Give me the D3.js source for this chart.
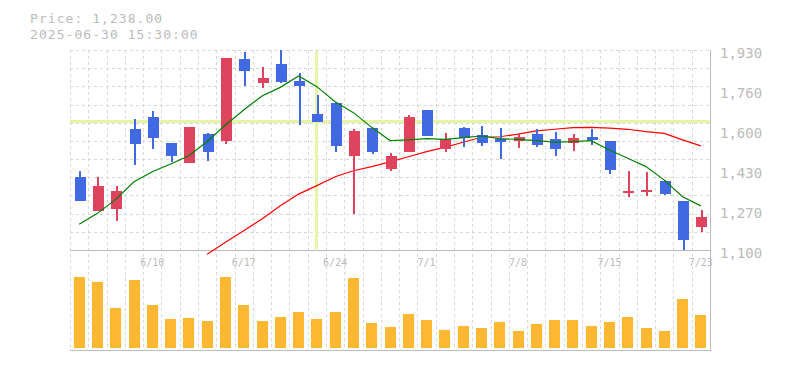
<!DOCTYPE html>
<html><head><meta charset="utf-8">
<script src="https://cdn.jsdelivr.net/npm/d3@7/dist/d3.min.js"></script>
<style>
html,body{margin:0;padding:0;background:#fff;}
svg{display:block;}
</style></head>
<body><svg id="c" width="785" height="370"></svg>
<script>
const dates = ["6/4","6/5","6/6","6/9","6/10","6/11","6/12","6/13","6/16","6/17","6/18","6/19","6/20","6/23","6/24","6/25","6/26","6/27","6/30","7/1","7/2","7/3","7/4","7/7","7/8","7/9","7/10","7/11","7/14","7/15","7/16","7/17","7/18","7/22","7/23"];
const open  = [1404,1263,1271,1602,1652,1544,1462,1581,1554,1893,1794,1872,1801,1664,1710,1490,1606,1437,1508,1681,1520,1606,1577,1561,1554,1581,1561,1545,1569,1552,1337,1345,1386,1303,1195];
const high  = [1428,1404,1367,1644,1678,1544,1610,1586,1897,1922,1861,1930,1833,1743,1715,1601,1606,1503,1660,1681,1586,1610,1615,1606,1583,1602,1590,1581,1602,1552,1428,1424,1390,1303,1266];
const low   = [1305,1263,1222,1454,1520,1466,1462,1471,1541,1782,1774,1794,1619,1631,1507,1249,1500,1429,1508,1574,1508,1529,1533,1479,1525,1527,1490,1512,1536,1417,1321,1324,1328,1100,1175];
const close = [1305,1367,1345,1541,1566,1491,1610,1508,1897,1844,1814,1797,1781,1631,1532,1595,1507,1490,1652,1574,1561,1566,1545,1549,1569,1536,1519,1565,1557,1432,1345,1349,1332,1142,1238];
const volume = [71300,66000,40000,68000,43000,29000,30000,27000,71300,43000,27000,31000,36000,29000,36000,70000,25000,21000,34000,28000,18000,22000,20000,26000,17000,24000,28000,28000,22000,26000,31000,20000,17000,49000,33000];
const maShort = [1207,1252,1310,1383,1425,1457,1491,1550,1619,1681,1739,1775,1822,1778,1715,1670,1609,1554,1557,1562,1559,1566,1573,1562,1559,1554,1548,1550,1554,1515,1481,1446,1390,1321,1283];
const maLong = [null,null,null,null,null,null,null,1082,1132,1180,1229,1284,1332,1367,1404,1429,1446,1466,1487,1508,1526,1547,1568,1570,1581,1594,1601,1608,1609,1606,1601,1591,1584,1557,1532];
const xTickLabels = ["6/10","6/17","6/24","7/1","7/8","7/15","7/23"];
const yTickValues = [1100,1266,1432,1598,1764,1930];
const headerPrice = "Price: 1,238.00";
const headerDate = "2025-06-30 15:30:00";
const crossDate = "6/23";
const crossPrice = 1635;

const L = 70, R = 710, PT = 50, PB = 250, VB = 350;
const svg = d3.select("#c");
const x = d3.scaleBand().domain(dates).range([L, R]);
const y = d3.scaleLinear().domain([1100, 1930]).range([PB, PT]);
const yv = d3.scaleLinear().domain([0, 100000]).range([348, 248]);
const bw = x.bandwidth();
const cw = 11;
const cx = d => x(d) + bw / 2;
const upCol = "#e0435e", dnCol = "#4169e1";
const gridCol = "#d8d8d8", axisCol = "#bbbbbb", txtCol = "#bbbbbb";

// grid
const g = svg.append("g").attr("shape-rendering", "crispEdges");
const hLines = d3.range(12).map(i => PT + i * (PB - PT) / 11);
g.selectAll(".hg").data(hLines.slice(0, 11)).join("line")
  .attr("x1", L).attr("x2", R).attr("y1", d => Math.round(d) + 0.5).attr("y2", d => Math.round(d) + 0.5)
  .attr("stroke", gridCol).attr("stroke-dasharray", "3,3");
const vLines = dates.map(d => x(d));
g.selectAll(".vg").data(vLines).join("line")
  .attr("x1", d => Math.round(d) + 0.5).attr("x2", d => Math.round(d) + 0.5)
  .attr("y1", PT).attr("y2", VB)
  .attr("stroke", gridCol).attr("stroke-dasharray", "3,3");

// volume bars
svg.append("g").attr("shape-rendering", "crispEdges").selectAll("rect").data(dates).join("rect")
  .attr("x", d => cx(d) - cw / 2).attr("width", cw)
  .attr("y", (d, i) => yv(volume[i])).attr("height", (d, i) => yv(0) - yv(volume[i]))
  .attr("fill", "#fdb733");

// crosshair
const ch = svg.append("g").attr("shape-rendering", "crispEdges");
ch.append("rect").attr("x", L).attr("width", R - L).attr("y", y(crossPrice) - 1.5).attr("height", 3).attr("fill", "#e4f5a6");
ch.append("rect").attr("x", cx(crossDate) - 1.5).attr("width", 3).attr("y", PT + 1).attr("height", PB - PT - 2).attr("fill", "#e4f5a6");

// axes borders
const ax = svg.append("g").attr("shape-rendering", "crispEdges").attr("stroke", axisCol);
ax.append("line").attr("x1", L).attr("x2", R + 1).attr("y1", PB + 0.5).attr("y2", PB + 0.5);
ax.append("line").attr("x1", L).attr("x2", R + 1).attr("y1", VB + 0.5).attr("y2", VB + 0.5);
ax.append("line").attr("x1", R + 0.5).attr("x2", R + 0.5).attr("y1", PT).attr("y2", VB + 1);

// MA lines
const lineGen = arr => d3.line().defined(d => d[1] != null).x(d => cx(d[0])).y(d => y(d[1]))(dates.map((d, i) => [d, arr[i]]));
svg.append("path").attr("d", lineGen(maLong)).attr("fill", "none").attr("stroke", "#ff0000").attr("stroke-width", 1.2);

// candles
const cg = svg.append("g").attr("shape-rendering", "crispEdges");
dates.forEach((d, i) => {
  const col = close[i] >= open[i] ? upCol : dnCol;
  cg.append("line").attr("x1", Math.round(cx(d)) + 0.5).attr("x2", Math.round(cx(d)) + 0.5)
    .attr("y1", y(high[i])).attr("y2", y(low[i])).attr("stroke", col).attr("stroke-width", 2);
  const top = y(Math.max(open[i], close[i])), bot = y(Math.min(open[i], close[i]));
  cg.append("rect").attr("x", Math.round(cx(d) - cw / 2) + 1).attr("width", cw)
    .attr("y", top).attr("height", Math.max(2, bot - top)).attr("fill", col);
});
svg.append("path").attr("d", lineGen(maShort)).attr("fill", "none").attr("stroke", "#008000").attr("stroke-width", 1.2);

// y labels
svg.append("g").selectAll("text").data(yTickValues).join("text")
  .attr("x", 720).attr("y", d => y(d) + 8)
  .attr("font-family", "DejaVu Sans Mono, monospace").attr("font-size", 14).attr("fill", txtCol)
  .text(d => d3.format(",")(Math.round(d / 10) * 10));

// x labels
svg.append("g").selectAll("text").data(xTickLabels).join("text")
  .attr("x", d => cx(d)).attr("y", 266).attr("text-anchor", "middle")
  .attr("font-family", "DejaVu Sans Mono, monospace").attr("font-size", 10).attr("fill", txtCol)
  .text(d => d);

// header
svg.append("text").attr("x", 30).attr("y", 23).attr("font-family", "DejaVu Sans Mono, monospace")
  .attr("font-size", 13).attr("letter-spacing", 1.05).attr("fill", "#bbbbbb").text(headerPrice);
svg.append("text").attr("x", 30).attr("y", 38.5).attr("font-family", "DejaVu Sans Mono, monospace")
  .attr("font-size", 13).attr("letter-spacing", 1.05).attr("fill", "#bbbbbb").text(headerDate);
</script></body></html>
